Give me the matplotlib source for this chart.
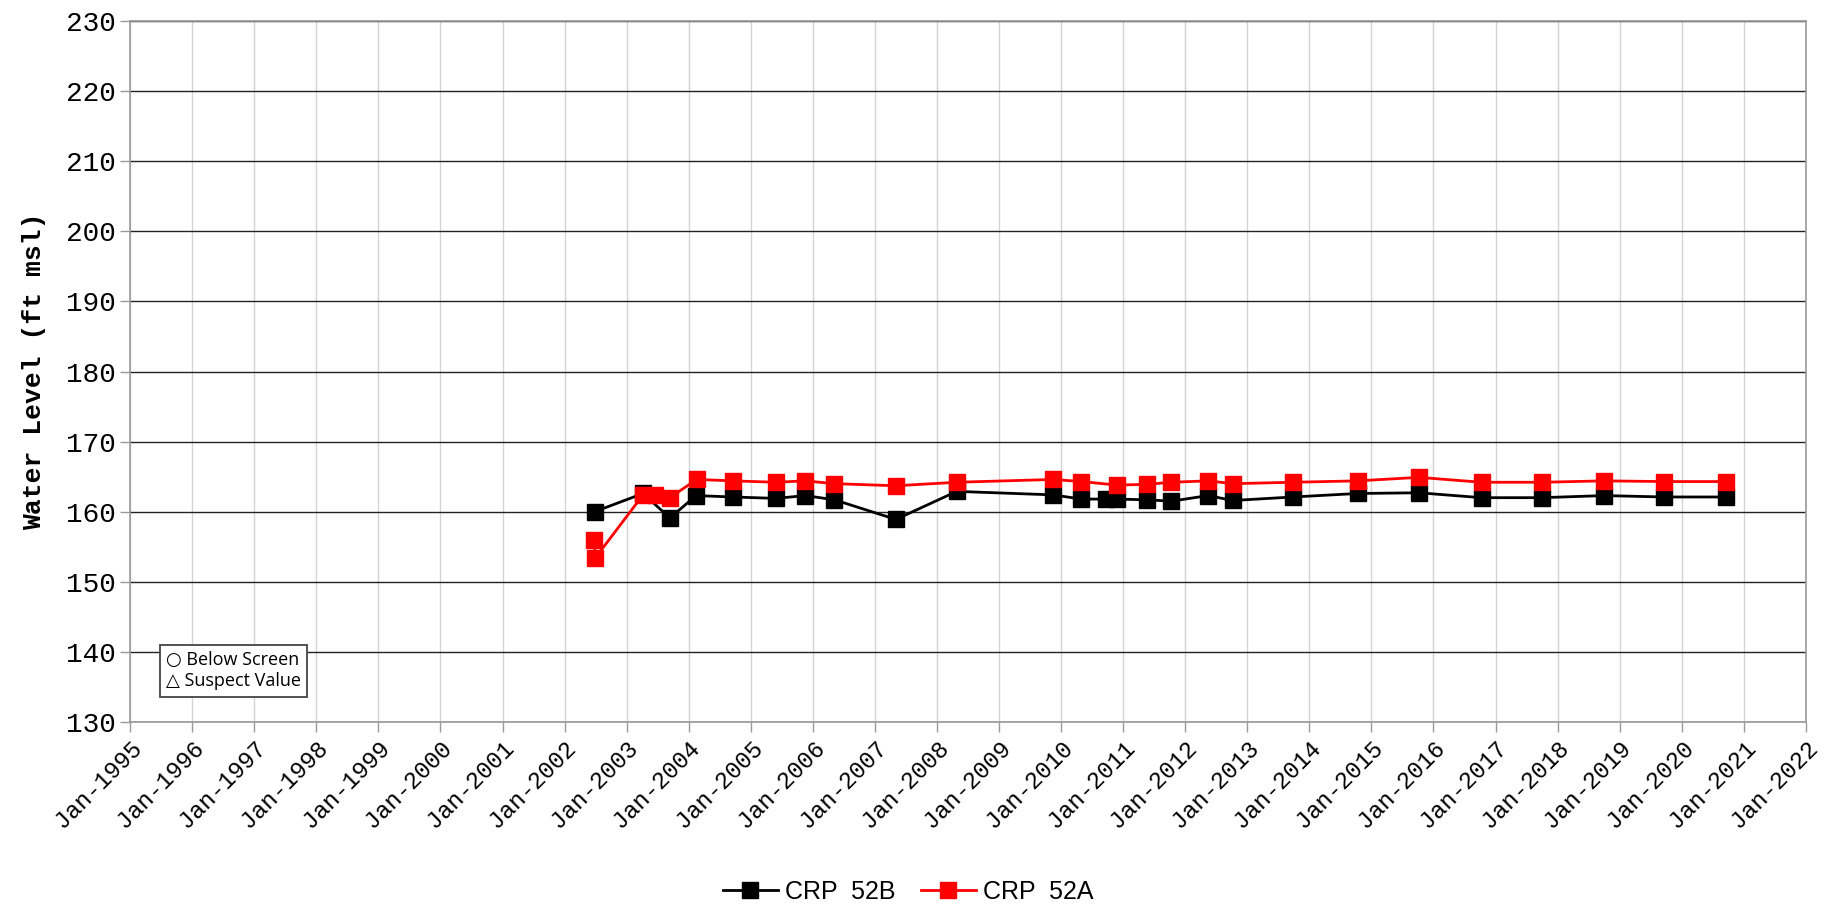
import pandas as pd
import matplotlib.pyplot as plt
import matplotlib.dates as mdates

# Well CRP 52B readings
dates_52b = ["2002-06-27", "2003-04-08", "2003-09-13", "2004-02-14", "2004-09-16",
             "2005-05-30", "2005-11-18", "2006-05-08", "2007-05-05", "2008-04-27",
             "2009-11-15", "2010-05-01", "2010-09-24", "2010-11-25", "2011-05-19",
             "2011-10-12", "2012-05-15", "2012-10-08", "2013-09-27", "2014-10-12",
             "2015-10-08", "2016-10-10", "2017-10-01", "2018-10-01", "2019-09-16",
             "2020-09-20"]
level_52b = [160.0, 162.6, 159.1, 162.3, 162.1,
             161.9, 162.3, 161.7, 158.9, 162.9,
             162.4, 161.8, 161.8, 161.8, 161.7,
             161.5, 162.3, 161.6, 162.1, 162.6,
             162.7, 162.0, 162.0, 162.3, 162.1,
             162.1]

# Well CRP 52A readings
dates_52a = ["2002-06-24", "2002-07-01", "2003-04-08", "2003-06-17", "2003-09-13",
             "2004-02-17", "2004-09-16", "2005-05-30", "2005-11-18", "2006-05-08",
             "2007-05-05", "2008-04-27", "2009-11-15", "2010-05-01", "2010-11-25",
             "2011-05-19", "2011-10-12", "2012-05-15", "2012-10-08", "2013-09-27",
             "2014-10-12", "2015-10-08", "2016-10-10", "2017-10-01", "2018-10-01",
             "2019-09-16", "2020-09-20"]
level_52a = [156.0, 153.4, 162.4, 162.4, 162.0,
             164.6, 164.4, 164.2, 164.4, 164.0,
             163.7, 164.2, 164.6, 164.3, 163.8,
             163.9, 164.2, 164.4, 164.0, 164.2,
             164.4, 164.9, 164.2, 164.2, 164.4,
             164.3, 164.3]

fig = plt.figure(figsize=(18.31, 9.06), dpi=100)
ax = fig.add_axes([0.071, 0.2031, 0.9153, 0.7737])

ax.plot(pd.to_datetime(dates_52b), level_52b, color="black", lw=2.0,
        marker="s", markersize=12, label="CRP  52B", zorder=3)
ax.plot(pd.to_datetime(dates_52a), level_52a, color="#ff0000", lw=2.0,
        marker="s", markersize=12, label="CRP  52A", zorder=4)

ax.set_xlim(pd.Timestamp("1995-01-01"), pd.Timestamp("2022-01-01"))
ax.set_ylim(130, 230)
ax.set_yticks(range(130, 231, 10))
ax.xaxis.set_major_locator(mdates.YearLocator())
ax.xaxis.set_major_formatter(mdates.DateFormatter("%b-%Y"))

ax.grid(axis="y", color="#222222", lw=1.0)
ax.grid(axis="x", color="#d4d4d4", lw=1.0)
ax.set_axisbelow(True)
for s in ax.spines.values():
    s.set_color("#999999")
    s.set_linewidth(1.2)

ax.tick_params(axis="both", color="#999999", length=7, width=1)
for lab in ax.get_yticklabels():
    lab.set_fontfamily("Liberation Mono")
    lab.set_fontsize(20)
for lab in ax.get_xticklabels():
    lab.set_fontfamily("Liberation Mono")
    lab.set_fontsize(17)
    lab.set_rotation(45)
    lab.set_ha("right")
    lab.set_rotation_mode("anchor")

ax.set_ylabel("Water Level (ft msl)", fontfamily="Liberation Mono",
              fontweight="bold", fontsize=19, labelpad=14)

# symbol key box
ax.text(0.0215, 0.073, "\u25cb Below Screen\n\u25b3 Suspect Value", transform=ax.transAxes,
        fontsize=13, family=["Open Sans", "DejaVu Sans"], va="center", ha="left",
        linespacing=1.2,
        bbox=dict(boxstyle="square,pad=0.35", fc="white", ec="#444444", lw=1.3), zorder=5)

fig.legend(loc="center", bbox_to_anchor=(0.496, 0.016), ncol=2, frameon=False,
           prop={"family": "Liberation Sans", "size": 18}, handlelength=2.2,
           columnspacing=1.0, handletextpad=0.3, markerscale=1.0)

fig.savefig("out.png", dpi=100)
